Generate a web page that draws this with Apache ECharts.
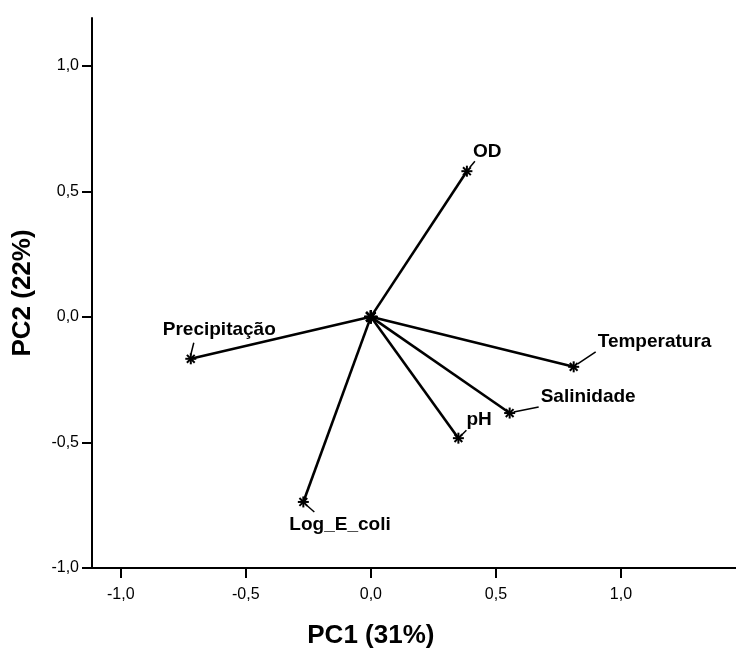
<!DOCTYPE html>
<html><head><meta charset="utf-8">
<script src="https://cdn.jsdelivr.net/npm/echarts@6/dist/echarts.min.js"></script>
<style>html,body{margin:0;padding:0;background:#fff}#c{width:736px;height:648px}</style>
</head><body><div id="c"></div>
<script>
// ---- data ----
const variables = ['OD', 'Precipitação', 'Log_E_coli', 'pH', 'Salinidade', 'Temperatura'];
const pc1 = [0.384, -0.720, -0.270, 0.350, 0.555, 0.811];
const pc2 = [0.580, -0.167, -0.737, -0.483, -0.383, -0.199];
const tickValues = [-1.0, -0.5, 0.0, 0.5, 1.0];
const xTitle = 'PC1 (31%)';
const yTitle = 'PC2 (22%)';

// ---- label placement (pixel offsets from the marker) ----
const labelPlacement = {
  'OD':           {tx: 6,   ty: -19, line: [3, -4, 8, -10]},
  'Precipitação': {tx: -28, ty: -29, line: [0, -4, 3, -16]},
  'Log_E_coli':   {tx: -14, ty: 23,  line: [3, 3, 11, 10]},
  'pH':           {tx: 8,   ty: -18, line: [3, -3, 8, -8]},
  'Salinidade':   {tx: 31,  ty: -16, line: [4, -1, 29, -6]},
  'Temperatura':  {tx: 24,  ty: -25, line: [4, -3, 22, -15]}
};

const FONT = '"Liberation Sans", Arial, Helvetica, sans-serif';
const fmt = v => v.toFixed(1).replace('.', ',');

function star(cx, cy, r) {
  const out = [];
  for (let k = 0; k < 4; k++) {
    const a = k * Math.PI / 4;
    out.push({type: 'line', shape: {x1: cx - r * Math.cos(a), y1: cy - r * Math.sin(a), x2: cx + r * Math.cos(a), y2: cy + r * Math.sin(a)},
      style: {stroke: '#000', lineWidth: 2}});
  }
  return out;
}

const seriesData = variables.map((n, i) => [pc1[i], pc2[i], n]);

const chart = echarts.init(document.getElementById('c'), null, {renderer: 'canvas'});
chart.setOption({
  backgroundColor: '#fff',
  animation: false,
  grid: {left: 92, right: 0, top: 18, bottom: 80, containLabel: false},
  xAxis: {
    type: 'value', min: -1.115, max: 1.46,
    axisLine: {show: true, onZero: false, lineStyle: {color: '#000', width: 2}},
    axisTick: {show: true, length: 10, customValues: tickValues, lineStyle: {color: '#000', width: 2}},
    axisLabel: {customValues: tickValues, formatter: fmt, margin: 19, fontFamily: FONT, fontSize: 16, color: '#000'},
    splitLine: {show: false}
  },
  yAxis: {
    type: 'value', min: -1.0, max: 1.19,
    name: yTitle, nameLocation: 'middle', nameGap: 56, nameRotate: 90,
    nameTextStyle: {fontFamily: FONT, fontSize: 26, fontWeight: 'bold', color: '#000'},
    axisLine: {show: true, onZero: false, lineStyle: {color: '#000', width: 2}},
    axisTick: {show: true, length: 10, customValues: tickValues, lineStyle: {color: '#000', width: 2}},
    axisLabel: {customValues: tickValues, formatter: fmt, margin: 13, fontFamily: FONT, fontSize: 16, color: '#000'},
    splitLine: {show: false}
  },
  series: [{
    type: 'custom',
    clip: false,
    data: seriesData,
    renderItem: function (params, api) {
      const o = api.coord([0, 0]);
      const p = api.coord([api.value(0), api.value(1)]);
      const name = variables[params.dataIndex];
      const lp = labelPlacement[name];
      const children = [
        {type: 'line', shape: {x1: o[0], y1: o[1], x2: p[0], y2: p[1]}, style: {stroke: '#000', lineWidth: 2.6}},
        ...star(p[0], p[1], 5.5),
        ...star(o[0], o[1], 6.5),
        {type: 'line', shape: {x1: p[0] + lp.line[0], y1: p[1] + lp.line[1], x2: p[0] + lp.line[2], y2: p[1] + lp.line[3]},
          style: {stroke: '#000', lineWidth: 1.5}},
        {type: 'text', x: p[0] + lp.tx, y: p[1] + lp.ty,
          style: {text: name, fill: '#000', font: 'bold 19px ' + FONT, align: 'left', verticalAlign: 'middle'}}
      ];
      return {type: 'group', children: children};
    }
  }]
});

// x-axis title centred under the zero of PC1, as in the reference
const zeroPx = chart.convertToPixel({gridIndex: 0}, [0, -1.0]);
chart.setOption({
  graphic: [{
    type: 'text', x: zeroPx[0], y: zeroPx[1] + 68,
    style: {text: xTitle, fill: '#000', font: 'bold 26px ' + FONT, align: 'center', verticalAlign: 'middle'}
  }]
});
</script>
</body></html>
